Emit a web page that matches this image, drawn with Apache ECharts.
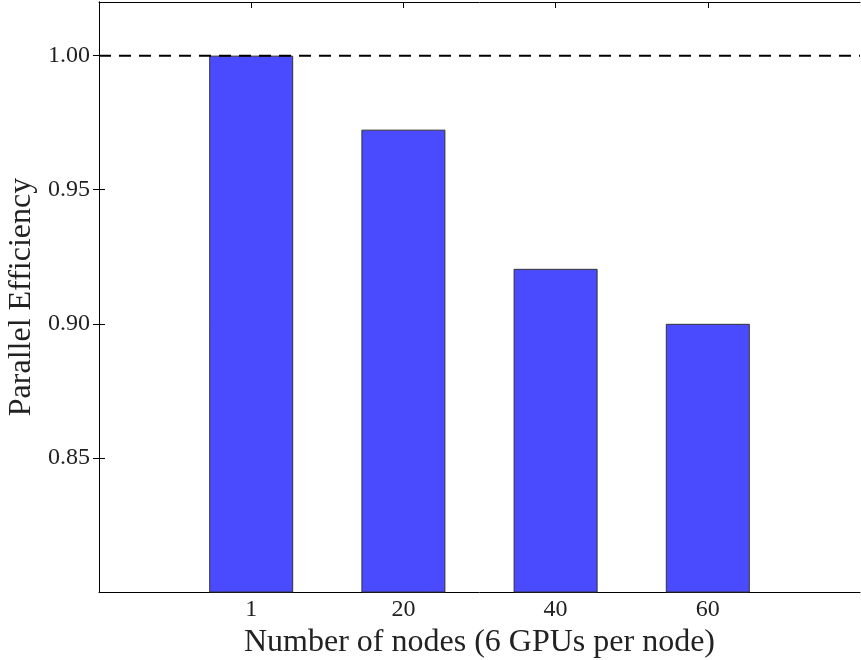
<!DOCTYPE html>
<html><head><meta charset="utf-8">
<script src="https://cdn.jsdelivr.net/npm/echarts@6/dist/echarts.min.js"></script>
<style>html,body{margin:0;padding:0;background:#fff}#c{width:861px;height:660px}</style>
</head><body><div id="c"></div>
<script>
const categories = ['1', '20', '40', '60'];
const efficiency = [1.0, 0.9724, 0.9205, 0.900];
const yTicks = [0.85, 0.90, 0.95, 1.00];
const idealEfficiency = 1.0;

const FONT = 'Liberation Serif';
const chart = echarts.init(document.getElementById('c'));
const xPos = categories.map((c, i) => i + 1);
const barData = efficiency.map((v, i) => [xPos[i], v]);
const xLabel = v => {
  const i = Math.round(v) - 1;
  return (Math.abs(v - Math.round(v)) < 1e-6 && i >= 0 && i < categories.length) ? categories[i] : '';
};
const yLabel = v => yTicks.some(t => Math.abs(t - v) < 1e-6) ? v.toFixed(2) : '';
const xTick = {show: true, inside: true, length: 6, customValues: xPos, lineStyle: {color: '#000', width: 1}};
const yTick = {show: true, inside: true, length: 6, customValues: yTicks, lineStyle: {color: '#000', width: 1}};
const line = {show: true, lineStyle: {color: '#000', width: 1}};
chart.setOption({
  animation: false,
  grid: {left: 99, top: 2, width: 761, height: 590, containLabel: false, outerBoundsMode: 'none'},
  xAxis: [
    {type: 'value', min: 0, max: 5, interval: 1, position: 'bottom',
     axisLine: line, axisTick: xTick, splitLine: {show: false},
     axisLabel: {formatter: xLabel, customValues: xPos, color: '#222', fontFamily: FONT, fontSize: 24, margin: 6},
     name: 'Number of nodes (6 GPUs per node)', nameLocation: 'middle', nameGap: 33,
     nameTextStyle: {fontFamily: FONT, fontSize: 32, color: '#222'}},
    {type: 'value', min: 0, max: 5, interval: 1, position: 'top',
     axisLine: line, axisTick: xTick, splitLine: {show: false}, axisLabel: {show: false}}
  ],
  yAxis: [
    {type: 'value', min: 0.8, max: 1.02, interval: 0.05, position: 'left',
     axisLine: line, axisTick: yTick, splitLine: {show: false},
     axisLabel: {formatter: yLabel, customValues: yTicks, color: '#222', fontFamily: FONT, fontSize: 24, margin: 9},
     name: 'Parallel Efficiency', nameLocation: 'middle', nameGap: 60,
     nameTextStyle: {fontFamily: FONT, fontSize: 32, color: '#222'}},
    {type: 'value', min: 0.8, max: 1.02, interval: 0.05, position: 'right',
     axisLine: line, axisTick: yTick, splitLine: {show: false}, axisLabel: {show: false}}
  ],
  series: [
    {type: 'bar', data: barData, barWidth: 84, xAxisIndex: 0, yAxisIndex: 0,
     itemStyle: {color: '#4a4aff', borderColor: '#333', borderWidth: 1}},
    {type: 'line', data: [[0, idealEfficiency], [5, idealEfficiency]], symbol: 'none',
     xAxisIndex: 0, yAxisIndex: 0, z: 5,
     lineStyle: {color: '#000', width: 2, type: [12, 8]}}
  ]
});
</script></body></html>
